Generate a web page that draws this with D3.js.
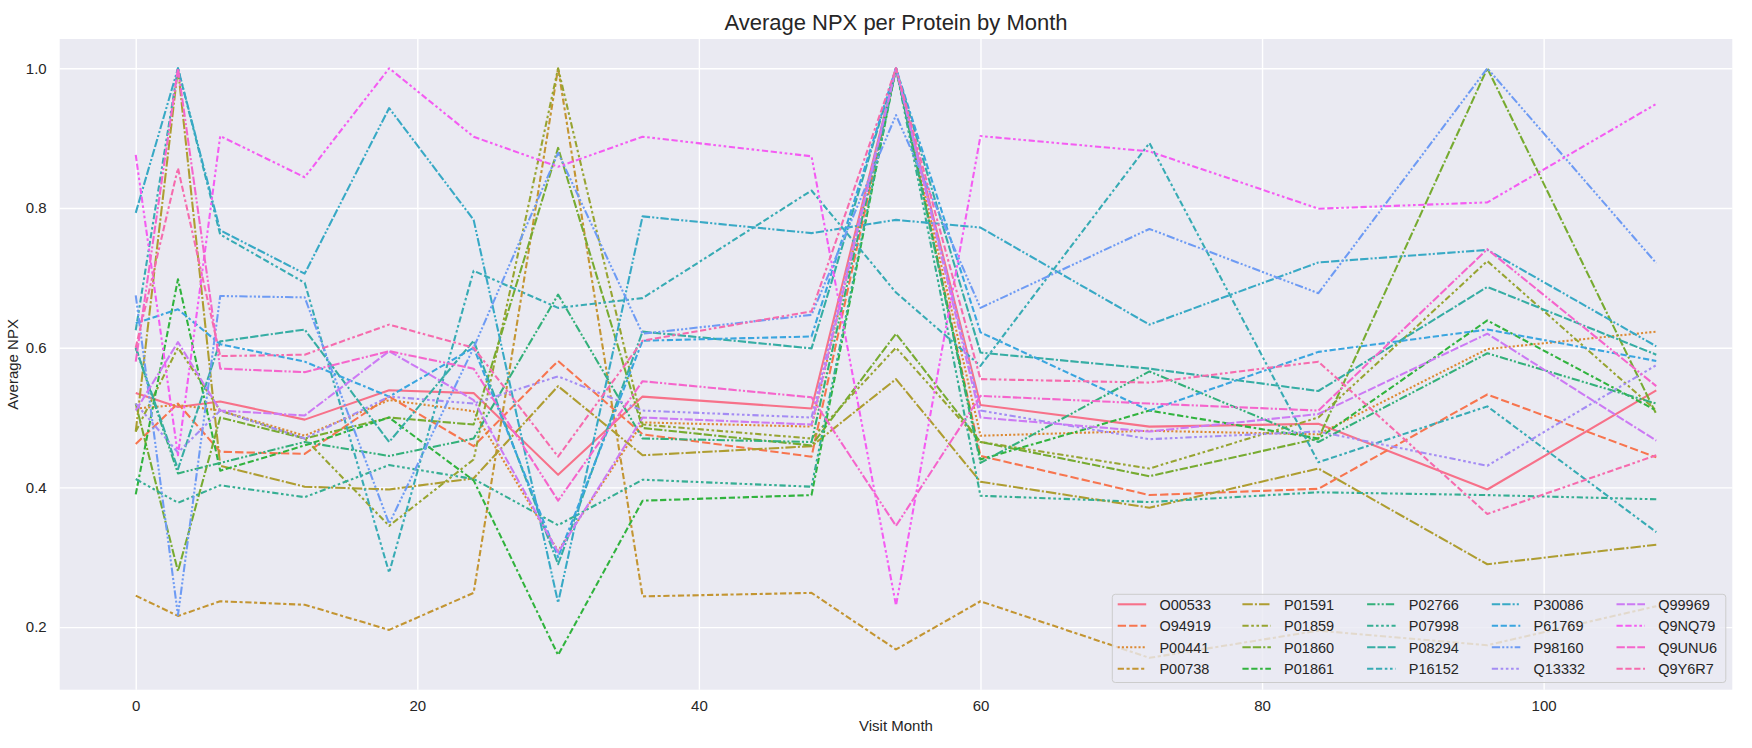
<!DOCTYPE html>
<html><head><meta charset="utf-8">
<script src="https://cdn.jsdelivr.net/npm/d3@7"></script>
<style>
body{margin:0;background:#fff}
svg{display:block}
text{font-family:"Liberation Sans",Arial,sans-serif;fill:#262626}
</style>
</head><body>
<svg id="chart" width="1752" height="748"></svg>
<script>
const months = [0,3,6,12,18,24,30,36,48,54,60,72,84,96,108];
const proteins = ["O00533","O94919","P00441","P00738","P01591","P01859","P01860","P01861","P02766","P07998","P08294","P16152","P30086","P61769","P98160","Q13332","Q99969","Q9NQ79","Q9UNU6","Q9Y6R7"];

const O00533 = [0.535,0.515,0.523,0.497,0.539,0.535,0.418,0.530,0.513,1.0,0.518,0.487,0.491,0.397,0.539];
const O94919 = [0.462,0.520,0.451,0.448,0.530,0.459,0.581,0.476,0.444,1.0,0.445,0.389,0.398,0.533,0.443];
const P00441 = [0.513,0.518,0.510,0.474,0.525,0.509,0.309,0.493,0.487,1.0,0.474,0.481,0.476,0.598,0.623];
const P00738 = [0.245,0.216,0.237,0.232,0.196,0.249,1.0,0.244,0.249,0.168,0.237,0.156,0.195,0.174,0.230];
const P01591 = [0.480,1.0,0.431,0.401,0.397,0.413,0.545,0.446,0.459,0.555,0.408,0.371,0.427,0.290,0.318];
const P01859 = [0.480,0.600,0.510,0.470,0.345,0.440,1.0,0.490,0.470,0.600,0.465,0.427,0.500,0.724,0.510];
const P01860 = [0.520,0.280,0.500,0.470,0.500,0.490,0.886,0.485,0.460,0.620,0.465,0.416,0.470,1.0,0.505];
const P01861 = [0.390,0.698,0.424,0.460,0.500,0.410,0.160,0.381,0.389,1.0,0.440,0.510,0.470,0.639,0.510];
const P02766 = [0.600,0.420,0.435,0.465,0.445,0.470,0.676,0.470,0.465,1.0,0.435,0.566,0.465,0.592,0.520];
const P07998 = [0.412,0.378,0.403,0.386,0.432,0.412,0.346,0.411,0.401,1.0,0.388,0.379,0.393,0.389,0.383];
const P08294 = [0.600,0.426,0.609,0.626,0.465,0.610,0.290,0.623,0.599,1.0,0.593,0.570,0.538,0.687,0.590];
const P16152 = [0.625,1.0,0.762,0.693,0.278,0.710,0.657,0.671,0.825,0.679,0.574,0.893,0.436,0.516,0.336];
const P30086 = [0.793,1.0,0.768,0.706,0.943,0.783,0.235,0.788,0.764,0.783,0.772,0.633,0.722,0.740,0.602];
const P61769 = [0.635,0.655,0.605,0.580,0.530,0.600,0.300,0.610,0.616,1.0,0.622,0.510,0.594,0.626,0.581];
const P98160 = [0.675,0.217,0.674,0.672,0.348,0.600,0.879,0.620,0.647,0.933,0.657,0.770,0.678,1.0,0.721];
const Q13332 = [0.520,0.450,0.510,0.470,0.530,0.520,0.559,0.510,0.500,1.0,0.510,0.469,0.480,0.431,0.575];
const Q99969 = [0.510,0.608,0.510,0.503,0.595,0.525,0.307,0.500,0.490,1.0,0.500,0.480,0.505,0.620,0.467];
const Q9NQ79 = [0.876,0.446,0.903,0.844,1.0,0.902,0.859,0.902,0.874,0.231,0.903,0.881,0.799,0.808,0.949];
const Q9UNU6 = [0.580,1.0,0.570,0.565,0.595,0.570,0.381,0.552,0.529,0.345,0.531,0.520,0.510,0.741,0.545];
const Q9Y6R7 = [0.600,0.857,0.588,0.590,0.633,0.600,0.444,0.610,0.652,1.0,0.555,0.550,0.580,0.362,0.446];

const seriesValues = [O00533,O94919,P00441,P00738,P01591,P01859,P01860,P01861,P02766,P07998,P08294,P16152,P30086,P61769,P98160,Q13332,Q99969,Q9NQ79,Q9UNU6,Q9Y6R7];

const xTickValues = [0,20,40,60,80,100];
const yTickValues = [0.2,0.4,0.6,0.8,1.0];

// ---- seaborn husl palette ----
const HM = [[3.2406,-1.5372,-0.4986],[-0.9689,1.8758,0.0415],[0.0557,-0.2040,1.0570]];
function maxChroma(L,H){
  const hr=H/180*Math.PI, sinH=Math.sin(hr), cosH=Math.cos(hr);
  const sub1=Math.pow(L+16,3)/1560896;
  const sub2=sub1>0.008856?sub1:L/903.3;
  let res=Infinity;
  for(const [m1,m2,m3] of HM){
    const top=(0.99915*m1+1.05122*m2+1.14460*m3)*sub2;
    const rb=0.86330*m3-0.17266*m2, lb=0.12949*m3-0.38848*m1;
    const bottom=(rb*sinH+lb*cosH)*sub2;
    for(const t of [0,1]){
      const C=L*(top-1.05122*t)/(bottom+0.17266*sinH*t);
      if(C>0&&C<res) res=C;
    }
  }
  return res;
}
function huslToRgb(H,S,L){
  const C=maxChroma(L,H)/100*S;
  const hr=H/180*Math.PI;
  const U=Math.cos(hr)*C, V=Math.sin(hr)*C;
  const fi=t=>Math.pow(t,3)>0.008856?Math.pow(t,3):(116*t-16)/903.3;
  const Y=fi((L+16)/116);
  const vu=U/(13*L)+0.19784, vv=V/(13*L)+0.46834;
  const X=-(9*Y*vu)/((vu-4)*vv-vu*vv);
  const Z=(9*Y-15*vv*Y-vv*X)/(3*vv);
  const fl=c=>c<=0.0031308?12.92*c:1.055*Math.pow(c,1/2.4)-0.055;
  const rgb=HM.map(r=>fl(r[0]*X+r[1]*Y+r[2]*Z)).map(c=>Math.max(0,Math.min(1,c)));
  return d3.rgb(rgb[0]*255,rgb[1]*255,rgb[2]*255).formatHex();
}
function huslPalette(n){
  const out=[];
  for(let i=0;i<n;i++){ let h=(i/n+0.01)%1; out.push(huslToRgb(h*359,0.9*99,0.65*99)); }
  return out;
}
// ---- seaborn unique_dashes ----
function combos(items,p){
  const res=[];
  (function rec(start,cur){
    if(cur.length===p){res.push(cur.slice());return;}
    for(let i=start;i<items.length;i++){cur.push(items[i]);rec(i,cur);cur.pop();}
  })(0,[]);
  return res;
}
function uniqueDashes(n){
  const d=[[],[4,1.5],[1,1],[3,1.25,1.5,1.25],[5,1,1,1]];
  let p=3;
  while(d.length<n){
    const a=combos([3,1.25],p).slice(1,-1).reverse();
    const b=combos([4,1],p).slice(1,-1);
    for(let i=0;i<Math.min(a.length,b.length);i++){
      for(const seg of [a[i],b[i]]){
        const gap=Math.min(...seg); const spec=[];
        seg.forEach(s=>{spec.push(s,gap);}); d.push(spec);
      }
    }
    p++;
  }
  return d.slice(0,n);
}

const colors = huslPalette(proteins.length);
const dashes = uniqueDashes(proteins.length);
const LW = 1.5*100/72;
const dashStr = spec => spec.length? spec.map(v=>(v*LW).toFixed(2)).join(",") : null;

const svg = d3.select("#chart");
const plot = {left:59.7, right:1732.3, top:39, bottom:689.7};
const x = d3.scaleLinear().domain([-5.4,113.4]).range([plot.left,plot.right]);
const y = d3.scaleLinear().domain([0.1104,1.0419]).range([plot.bottom,plot.top]);

svg.append("rect").attr("x",plot.left).attr("y",plot.top)
  .attr("width",plot.right-plot.left).attr("height",plot.bottom-plot.top).attr("fill","#EAEAF2");

// grid via axes
const gx = svg.append("g").attr("transform",`translate(0,${plot.bottom})`)
  .call(d3.axisBottom(x).tickValues(xTickValues).tickFormat(d3.format("d")).tickSize(-(plot.bottom-plot.top)).tickPadding(11));
const gy = svg.append("g").attr("transform",`translate(${plot.left},0)`)
  .call(d3.axisLeft(y).tickValues(yTickValues).tickFormat(d3.format(".1f")).tickSize(-(plot.right-plot.left)).tickPadding(13));
[gx,gy].forEach(g=>{
  g.select(".domain").remove();
  g.selectAll(".tick line").attr("stroke","#ffffff").attr("stroke-width",1.4);
  g.selectAll(".tick text").attr("fill","#262626").style("font-size","15px")
    .style("font-family",'"Liberation Sans",Arial,sans-serif');
});

const clip = svg.append("clipPath").attr("id","pc").append("rect")
  .attr("x",plot.left).attr("y",plot.top).attr("width",plot.right-plot.left).attr("height",plot.bottom-plot.top);

const line = d3.line().x(d=>x(d[0])).y(d=>y(d[1]));
const gl = svg.append("g").attr("clip-path","url(#pc)");
proteins.forEach((p,i)=>{
  const data = months.map((m,j)=>[m,seriesValues[i][j]]);
  const path = gl.append("path").datum(data).attr("d",line)
    .attr("fill","none").attr("stroke",colors[i]).attr("stroke-width",LW)
    .attr("stroke-linejoin","round");
  const ds = dashStr(dashes[i]);
  if(ds) path.attr("stroke-dasharray",ds);
});

// title and labels
svg.append("text").attr("x",(plot.left+plot.right)/2).attr("y",30).attr("text-anchor","middle")
  .style("font-size","22px").text("Average NPX per Protein by Month");
svg.append("text").attr("x",(plot.left+plot.right)/2).attr("y",731).attr("text-anchor","middle")
  .style("font-size","15px").text("Visit Month");
svg.append("text").attr("transform",`translate(18,${(plot.top+plot.bottom)/2}) rotate(-90)`)
  .attr("text-anchor","middle").style("font-size","15px").text("Average NPX");

// legend
const lg = svg.append("g");
lg.append("rect").attr("x",1112.3).attr("y",594.3).attr("width",613.5).attr("height",88.2)
  .attr("rx",3).attr("fill","#EAEAF2").attr("fill-opacity",0.8).attr("stroke","#cccccc").attr("stroke-width",1);
proteins.forEach((p,i)=>{
  const col=Math.floor(i/4), row=i%4;
  const hx = 1117.7 + col*124.7, cy = 604.3 + row*21.5;
  const l = lg.append("line").attr("x1",hx).attr("x2",hx+28.5).attr("y1",cy).attr("y2",cy)
    .attr("stroke",colors[i]).attr("stroke-width",LW);
  const ds = dashStr(dashes[i]); if(ds) l.attr("stroke-dasharray",ds);
  lg.append("text").attr("x",hx+41.7).attr("y",cy+5.2).style("font-size","14.5px").text(p);
});
</script>
</body></html>
